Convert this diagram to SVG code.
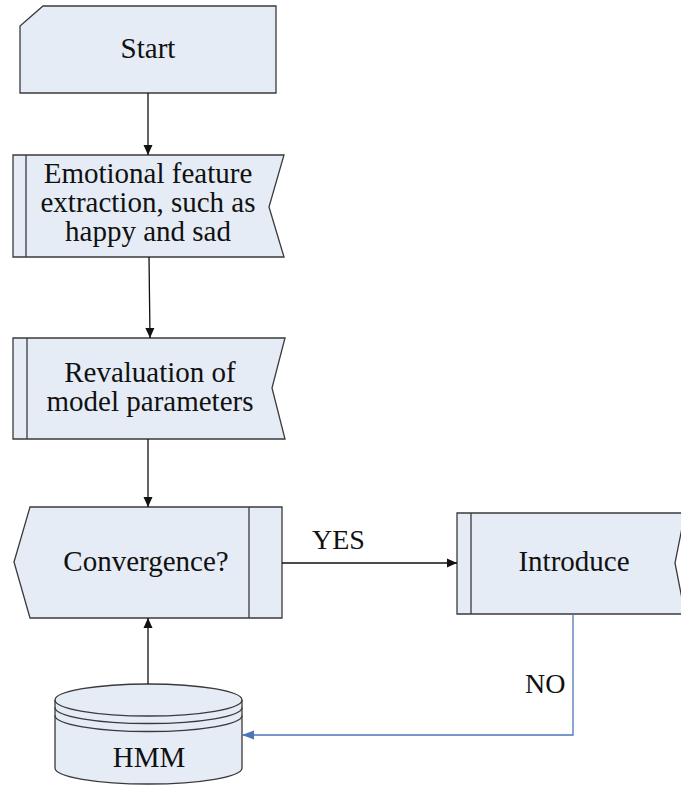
<svg xmlns="http://www.w3.org/2000/svg" width="681" height="785" viewBox="0 0 681 785">
<style>
.box{fill:#E6ECF6;stroke:#3a3a3a;stroke-width:1.3}
.ln{fill:none;stroke:#3a3a3a;stroke-width:1.3}
.t{font-family:"Liberation Serif","Times New Roman",serif;font-size:29px;fill:#111;text-anchor:middle}
.lbl{font-family:"Liberation Serif","Times New Roman",serif;font-size:28px;fill:#111}
.c{fill:none;stroke:#111;stroke-width:1.3}
.cb{fill:none;stroke:#4A76B8;stroke-width:1.3}
</style>
<defs>
<marker id="ah" markerWidth="10" markerHeight="10" refX="10" refY="5" orient="auto" markerUnits="userSpaceOnUse">
<path d="M0,0.5 L10,5 L0,9.5 Z" fill="#111"/>
</marker>
<marker id="ahb" markerWidth="12" markerHeight="10" refX="12" refY="5" orient="auto" markerUnits="userSpaceOnUse">
<path d="M0,0.5 L12,5 L0,9.5 Z" fill="#4A76B8"/>
</marker>
</defs>
<g id="start">
<path class="box" d="M43,6 L276,6 L276,93 L20,93 L20,26 Z"/>
<text class="t" x="148" y="58">Start</text>
</g>
<g id="emotional">
<path class="box" d="M13,155 L284,155 L269,207 L284,257 L13,257 Z"/>
<line class="ln" x1="26" y1="155" x2="26" y2="257"/>
<text class="t" x="148" y="183">Emotional feature</text>
<text class="t" x="148" y="212">extraction, such as</text>
<text class="t" x="148" y="241">happy and sad</text>
</g>
<g id="revaluation">
<path class="box" d="M13,338 L285,338 L272,388 L285,439 L13,439 Z"/>
<line class="ln" x1="27" y1="338" x2="27" y2="439"/>
<text class="t" x="150" y="382">Revaluation of</text>
<text class="t" x="150" y="411">model parameters</text>
</g>
<g id="convergence">
<path class="box" d="M30,507 L282,507 L282,618 L30,618 L14,562 Z"/>
<line class="ln" x1="249" y1="507" x2="249" y2="618"/>
<text class="t" x="146" y="571">Convergence?</text>
</g>
<g id="introduce">
<path class="box" d="M457,513 L685,513 L675,563 L685,614 L457,614 Z"/>
<line class="ln" x1="471" y1="513" x2="471" y2="614"/>
<text class="t" x="574" y="571">Introduce</text>
</g>
<g id="hmm">
<path class="box" d="M55,700 A93.5,16 0 0 1 242,700 L242,768 A93.5,16 0 0 1 55,768 Z"/>
<path class="ln" d="M55,700 A93.5,16 0 0 0 242,700"/>
<path class="ln" d="M55,707.5 A93.5,16 0 0 0 242,707.5"/>
<path class="ln" d="M55,715.5 A93.5,16 0 0 0 242,715.5"/>
<text class="t" x="149" y="767">HMM</text>
</g>
<g id="connectors">
<line class="c" x1="148" y1="93" x2="148" y2="155" marker-end="url(#ah)"/>
<line class="c" x1="149" y1="257" x2="150" y2="338" marker-end="url(#ah)"/>
<line class="c" x1="148" y1="439" x2="148" y2="507" marker-end="url(#ah)"/>
<line class="c" x1="148" y1="684" x2="148" y2="618" marker-end="url(#ah)"/>
<line class="c" x1="282" y1="563" x2="457" y2="563" marker-end="url(#ah)"/>
<polyline class="cb" points="573,614 573,735 242,735" marker-end="url(#ahb)"/>
<text class="lbl" x="312" y="549">YES</text>
<text class="lbl" x="525" y="693">NO</text>
</g>
</svg>
